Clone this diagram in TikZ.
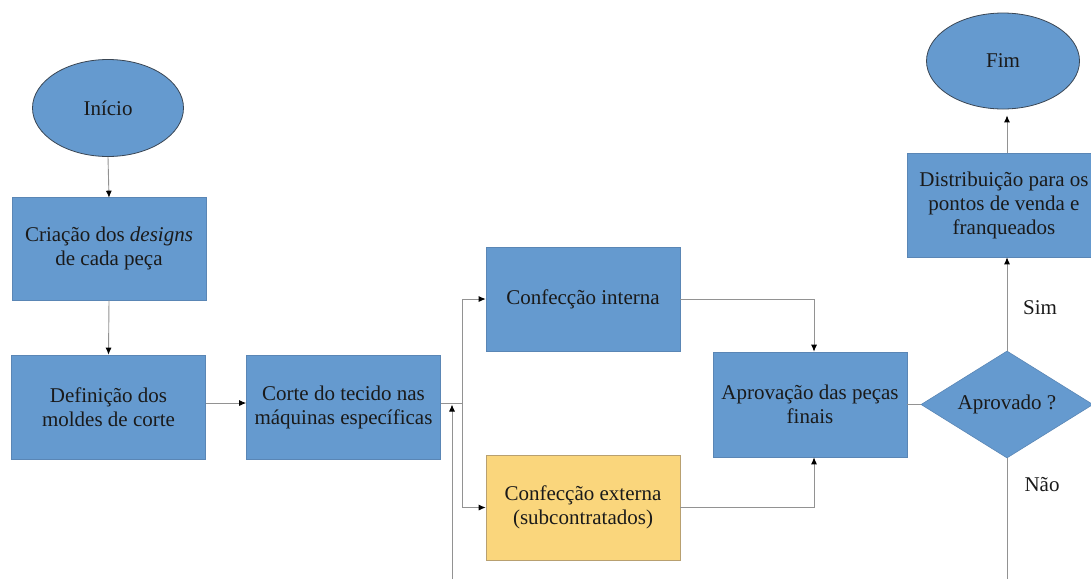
\documentclass[tikz,border=0pt]{standalone}
\usepackage{fontspec}
\setmainfont{Liberation Serif}
\usetikzlibrary{shapes.geometric,arrows.meta}
\definecolor{boxblue}{HTML}{659ACF}
\definecolor{boxedge}{HTML}{5A86B5}
\definecolor{ovaledge}{HTML}{3A4654}
\definecolor{boxyellow}{HTML}{FAD67C}
\definecolor{yellowedge}{HTML}{B8A070}
\definecolor{linegray}{HTML}{929292}
\definecolor{txt}{HTML}{1A1A1A}
\begin{document}
\begin{tikzpicture}[x=1pt,y=-1pt,
  every node/.style={font=\fontsize{21pt}{24pt}\selectfont, text=txt, align=center, inner sep=0pt},
  procbox/.style={rectangle, fill=boxblue, draw=boxedge, line width=0.6pt, minimum width=194pt, minimum height=104pt},
  extbox/.style={rectangle, fill=boxyellow, draw=yellowedge, line width=0.6pt, minimum width=194pt, minimum height=104pt},
  terminal/.style={ellipse, fill=boxblue, draw=ovaledge, line width=0.8pt},
  decision/.style={diamond, fill=boxblue, draw=boxedge, line width=0.6pt, minimum width=172pt, minimum height=107pt, aspect=1.6},
  conn/.style={draw=linegray, line width=0.9pt},
  arr/.style={conn, -{Latex[length=7pt,width=6pt,color=black]}},
  lbl/.style={font=\fontsize{21pt}{24pt}\selectfont}
]
\useasboundingbox (0,0) rectangle (1091,579);
\clip (0,0) rectangle (1091,579);

\node[terminal, minimum width=151pt, minimum height=97pt] (inicio) at (108,108) {Início};
\node[procbox, minimum height=103pt] (criacao) at (109,248.5) {Criação dos \textit{designs}\\de cada peça};
\node[procbox] (definicao) at (108.5,407) {Definição dos\\moldes de corte};
\node[procbox] (corte) at (343.5,407) {Corte do tecido nas\\máquinas específicas};
\node[procbox] (interna) at (583,299) {Confecção interna};
\node[extbox, minimum height=105pt] (externa) at (583,507.5) {Confecção externa\\(subcontratados)};
\node[procbox, minimum height=105pt] (aprov) at (810,404.5) {Aprovação das peças\\finais};
\node[decision] (decisao) at (1007,404.5) {Aprovado ?};
\node[procbox] (distrib) at (1004,205) {Distribuição para os\\pontos de venda e\\franqueados};
\node[terminal, minimum width=153pt, minimum height=96pt] (fim) at (1003,61) {Fim};

\coordinate (split) at (462,403);
\coordinate (loopbot) at (452,579);
\coordinate (loopend) at (452,404.5);
\coordinate (naobot) at (1007,579);

\draw[arr] (inicio.south) -- ([yshift=-1pt]criacao.north);
\draw[arr] (criacao.south) -- (definicao.north);
\draw[arr] (definicao.east |- 0,403) -- (corte.west |- 0,403);
\draw[conn] (corte.east |- split) -- (split);
\draw[arr] (split) |- (interna.west);
\draw[arr] (split) |- (externa.west);
\draw[arr] (loopbot) -- (loopend);
\draw[arr] (interna.east) -| ([xshift=4pt]aprov.north);
\draw[arr] (externa.east) -| ([xshift=4pt]aprov.south);
\draw[conn] (aprov.east) -- (decisao.west);
\draw[arr] (decisao.north) -- (distrib.south -| decisao.north);
\draw[arr] (distrib.north -| decisao.north) -- ([yshift=-6pt]fim.south -| decisao.north);
\draw[conn] (decisao.south) -- (naobot);

\node[lbl] (sim) at (1040,308) {Sim};
\node[lbl] (nao) at (1042,485) {Não};
\end{tikzpicture}
\end{document}
